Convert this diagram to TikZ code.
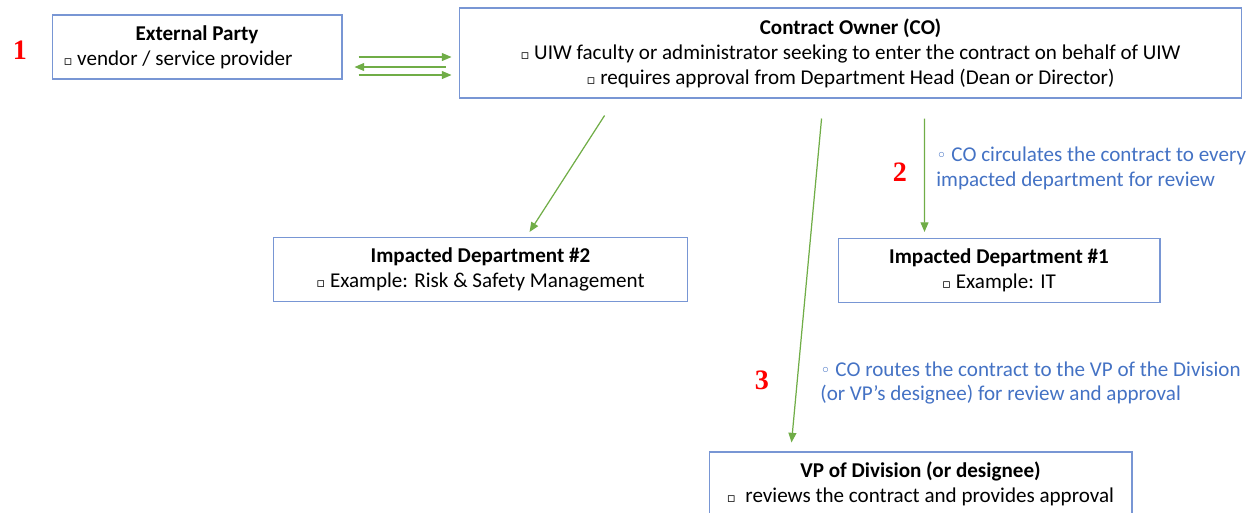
\documentclass[tikz,border=0pt]{standalone}
\usepackage{fontspec}
\setmainfont{Carlito}
\newfontfamily\numfont{Liberation Serif}
\newfontfamily\symfont{DejaVu Sans}
\usetikzlibrary{arrows.meta, calc}

\definecolor{boxblue}{RGB}{120,150,212}
\definecolor{flowgreen}{RGB}{112,173,71}
\definecolor{noteblue}{RGB}{68,114,196}

\newcommand{\sqbul}{{\symfont\fontsize{7.5}{7.5}\selectfont ▫}}
\newcommand{\rndbul}{{\symfont\fontsize{10}{10}\selectfont ◦}}

\begin{document}
\begin{tikzpicture}[
            x = 0.02cm, y = -0.02cm, % one unit = one pixel
            > = {Triangle[length=5.5pt, width=4.5pt]}, % arrow head style
            font = \fontsize{12}{14.2}\selectfont
        ]

        \tikzstyle{box}=[
            draw = boxblue,
            line width = 0.6pt,
            inner sep = 0pt,
            minimum height = 1.28cm,
            align = center
        ]
        \tikzstyle{flow}=[->, draw = flowgreen, line width = 0.7pt]
        \tikzstyle{num}=[text = red, font = \numfont\bfseries\fontsize{16}{16}\selectfont]
        \tikzstyle{note}=[text = noteblue, align = left, inner sep = 0pt, anchor = west]

	\useasboundingbox (0,0) rectangle (1256,512);

	\node[box, minimum width=5.8cm] (ext) at (197,47) {\textbf{External Party}\\\sqbul\ vendor / service provider\hspace*{0.76cm}};
	\node[box, minimum width=15.66cm, minimum height=1.8cm] (co) at (850.5,53) {\textbf{Contract Owner (CO)}\\\sqbul\ UIW faculty or administrator seeking to enter the contract on behalf of UIW\\\sqbul\ requires approval from Department Head (Dean or Director)};
	\node[box, minimum width=8.3cm] (dep2) at (480.5,269.5) {\textbf{Impacted Department \#2}\\\sqbul\ Example: Risk \& Safety Management};
	\node[box, minimum width=6.44cm] (dep1) at (999,270.5) {\textbf{Impacted Department \#1}\\\sqbul\ Example: IT};
	\node[box, minimum width=8.46cm] (vp) at (920.5,484) {\textbf{VP of Division (or designee)}\\\sqbul\ \ reviews the contract and provides approval};

	\node[num] (n1) at (20,50) {1};
	\node[num] (n2) at (900,172) {2};
	\node[num] (n3) at (762,380) {3};

	\node[note] (t2) at (936,168) {\rndbul\ CO circulates the contract to every\\impacted department for review};
	\node[note] (t3) at (820,383) {\rndbul\ CO routes the contract to the VP of the Division\\(or VP’s designee) for review and approval};

	\draw[flow] ($(ext.east)+(16,10)$) -- ($(co.west)+(-7,4)$);
	\draw[flow] ($(co.west)+(-13,14)$) -- ($(ext.east)+(12,20)$);
	\draw[flow] ($(ext.east)+(16,28)$) -- ($(co.west)+(-7,22)$);

	\draw[flow] ($(co.south west)+(146,17)$) -- ($(dep2.north west)+(257,-5)$);
	\draw[flow] ($(co.south west)+(466,20)$) -- ($(dep1.north west)+(87,-6)$);
	\draw[flow] ($(co.south west)+(363,20)$) -- ($(vp.north west)+(83,-9)$);

    \end{tikzpicture}
\end{document}
